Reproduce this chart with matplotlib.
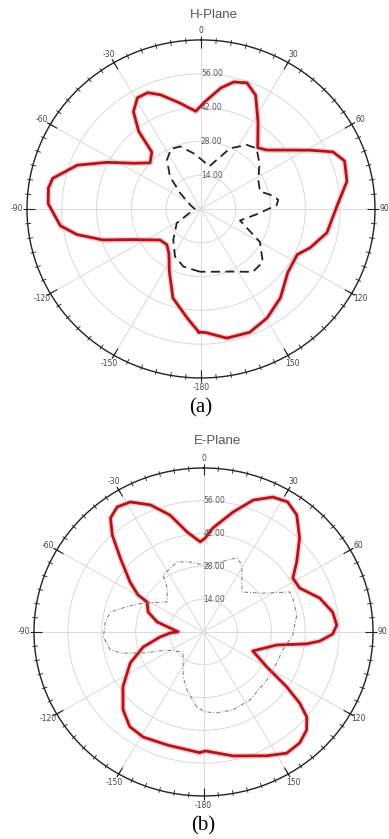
import matplotlib
matplotlib.use("Agg")
import matplotlib.pyplot as plt
import numpy as np

# H-plane: angle (deg, clockwise from top), radius
h_co_ang = [-179, -173, -163, -154, -145, -137, -128, -115, -108, -102, -97, -88, -82, -78,
            -70, -63, -55, -47, -40, -38, -34, -29, -24, -19, -11, -3, 2, 9, 14, 19.5, 25,
            32.5, 42, 47.5, 54, 61, 66, 71, 79, 88, 101, 110, 116, 127, 139, 149.5, 159, 169, 178]
h_co_r = [51, 45.5, 38.6, 29, 22.5, 20.2, 20.9, 30, 41.5, 51, 57, 61.5, 62, 61,
          53, 42.5, 33, 28, 30.8, 40.7, 48.6, 52.7, 52.7, 50, 44.7, 40.5, 44.4, 50.7, 54.2, 55.4, 52,
          42.7, 34.1, 36.1, 41.5, 50.2, 58.1, 61.1, 59.8, 55, 51.6, 46.8, 43.1, 43.7, 48.7, 52.4, 54.7, 54.5, 51.2]

h_x_ang = [-179, -163.5, -152, -139, -121, -105, -90, -69, -52, -43, -34, -26, -18, -7.6, 0, 10.8,
           25, 34.8, 41.7, 51.2, 62.5, 73, 78, 83, 87, 95, 107, 120, 131.5, 141.3, 153.4, 166]
h_x_r = [26, 24.9, 22.3, 17, 11.4, 4, 2.5, 4.7, 10.6, 18.3, 24.5, 27.6, 27.2, 23.3, 20.6, 18,
         27.7, 32.3, 33.6, 30.2, 26, 24.8, 28.4, 31.3, 30.5, 23, 16.4, 27.4, 33.2, 33.4, 29, 26.8]

# E-plane
e_co_ang = [-178, -163, -151, -143, -135, -125, -113.6, -104.4, -96.7, -91.7, -89.5, -77.4, -69.6,
            -61.2, -59.7, -55, -47.4, -42.3, -38.3, -33.7, -28.6, -22, -15.5, -9, -2, 1, 5, 13.4,
            20, 26.4, 32, 37.6, 44.7, 52.2, 58, 64.7, 73.2, 81, 87, 91, 94.6, 96.8, 100.4, 111.7,
            119.7, 124.3, 127.4, 130.4, 134.5, 140, 146.4, 153.6, 167, 179]
e_co_r = [51.5, 50.5, 51.3, 50.6, 47, 40.6, 33, 25.7, 18, 13.8, 10.5, 19.6, 24.4,
          26.6, 31.3, 37, 46.7, 56, 62, 64.2, 63.2, 58.5, 51.8, 43.2, 38.5, 40.1, 44.6, 52.6,
          59.9, 64.3, 65.5, 63.1, 56.4, 48.7, 43.5, 43.9, 50.1, 54, 55.1, 53.3, 48.2, 42.9, 30.8, 21.9,
          30.1, 41.6, 50, 56, 59.7, 61.8, 62.1, 59, 54.3, 50.8]

e_x_ang = [-175, -164.7, -156.4, -135.3, -117, -110, -105, -101, -93, -84, -77.5, -71, -63.5, -49.5,
           -38.6, -34.5, -20, -10.6, -0.4, 12.8, 23.6, 29, 43, 56, 64.4, 68.6, 79.3, 92, 103.2,
           113.6, 128, 146.6, 160, 170.8, 179]
e_x_r = [32.1, 25.7, 21, 12, 17, 26, 35, 39.3, 41.4, 40.8, 39.4, 33.3, 27.8, 19.7,
         24, 29.5, 31.8, 30.4, 28.6, 30.7, 34.5, 32.7, 23.3, 29.6, 39.5, 39.6, 39.2, 36.9, 33.6,
         33, 33.2, 34.8, 35.4, 35, 34.1]

theta_ticks = [0, 30, 60, 90, 120, 150, 180, -150, -120, -90, -60, -30]
theta_labels = ["0", "30", "60", "90", "120", "150", "-180", "-150", "-120", "-90", "-60", "-30"]
r_ticks = [14, 28, 42, 56]
r_labels = ["14.00", "28.00", "42.00", "56.00"]
r_max = 70


def closed(ang, r):
    a = np.deg2rad(np.mod(np.r_[ang, ang[0]], 360))
    a = np.unwrap(a)
    return a, np.r_[r, r[0]]


def setup(ax):
    ax.set_aspect("auto")
    ax.set_theta_zero_location("N")
    ax.set_theta_direction(-1)
    ax.set_xticks(np.deg2rad(np.mod(theta_ticks, 360)))
    ax.set_xticklabels(theta_labels, fontsize=5.5, color="#444")
    ax.set_xlim(0, 2 * np.pi)
    ax.set_ylim(0, r_max)
    ax.tick_params(axis="x", which="major", length=0, pad=0)
    ax.set_yticks(r_ticks)
    ax.set_yticklabels([])
    ax.grid(True, color="#d9d9d9", lw=0.7)
    ax.spines["polar"].set_color("#222")
    ax.spines["polar"].set_linewidth(1.0)
    # tick marks around the rim
    minor = np.deg2rad(np.arange(0, 360, 5))
    major = np.deg2rad(np.arange(0, 360, 30))
    ax.vlines(minor, r_max - 1.4, r_max + 1.0, color="#222", lw=0.6, clip_on=False, zorder=4)
    ax.vlines(major, r_max - 3.2, r_max + 1.6, color="#222", lw=0.8, clip_on=False, zorder=4)
    for r, lab in zip(r_ticks, r_labels):
        ax.text(0, r, lab, ha="left", va="center", fontsize=5.5, color="#555", zorder=5)


fig = plt.figure(figsize=(3.89, 8.39), dpi=100)

ax1 = fig.add_axes([0.0694, 0.5495, 0.8946, 0.4029], projection="polar")
setup(ax1)
a, r = closed(h_co_ang, h_co_r)
ax1.plot(a, r, color="#f4b0b0", lw=4.2, alpha=0.55, solid_joinstyle="round")
ax1.plot(a, r, color="#b3141c", lw=2.0, solid_joinstyle="round")
a, r = closed(h_x_ang, h_x_r)
ax1.plot(a, r, color="#222", lw=1.3, linestyle=(0, (5, 3)))

ax2 = fig.add_axes([0.0874, 0.0513, 0.8715, 0.3909], projection="polar")
setup(ax2)
a, r = closed(e_co_ang, e_co_r)
ax2.plot(a, r, color="#f4b0b0", lw=4.2, alpha=0.55, solid_joinstyle="round")
ax2.plot(a, r, color="#b3141c", lw=2.0, solid_joinstyle="round")
a, r = closed(e_x_ang, e_x_r)
ax2.plot(a, r, color="#777", lw=0.7, linestyle=(0, (4, 2, 1, 2)))

fig.text(0.55, 0.982, "H-Plane", ha="center", va="center", fontsize=9.5,
         family="Liberation Sans", color="#555")
fig.text(0.56, 0.474, "E-Plane", ha="center", va="center", fontsize=9.5,
         family="Liberation Sans", color="#555")
fig.text(0.515, 0.514, "(a)", ha="center", va="center", fontsize=15, family="Liberation Serif")
fig.text(0.522, 0.0155, "(b)", ha="center", va="center", fontsize=15, family="Liberation Serif")

fig.savefig("out.png", dpi=100)
